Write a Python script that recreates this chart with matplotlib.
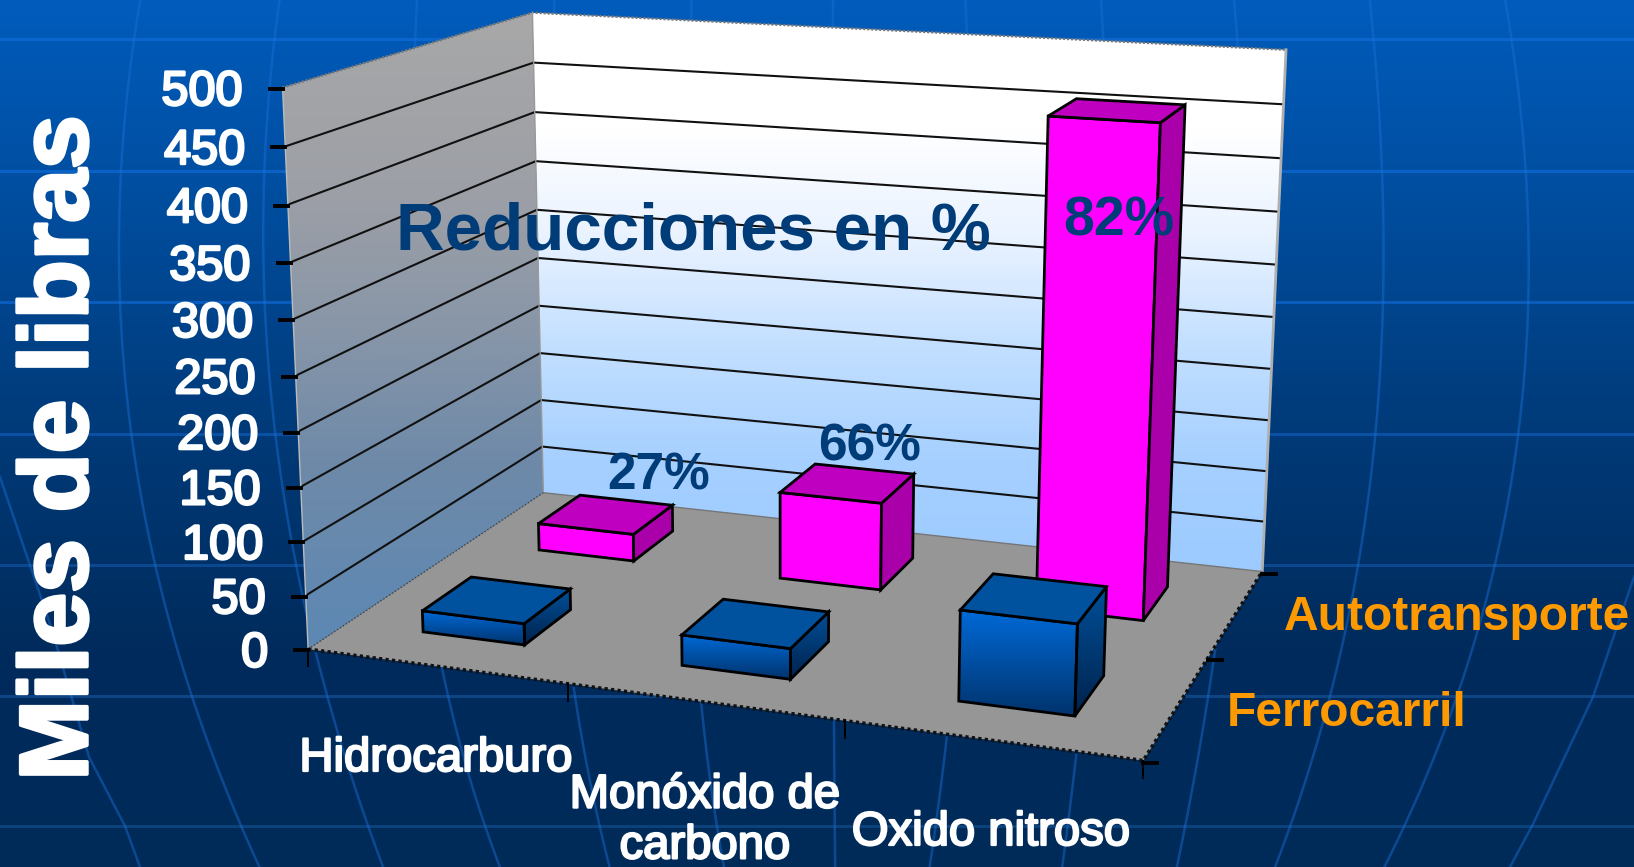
import numpy as np
import matplotlib
matplotlib.use('Agg')
from matplotlib import pyplot as plt
from matplotlib import patheffects as pe
from matplotlib.colors import LinearSegmentedColormap
from matplotlib.patches import Polygon

plt.rcParams['font.family'] = ['Liberation Sans', 'DejaVu Sans']

categories = ['Hidrocarburo', 'Monóxido de\ncarbono', 'Oxido nitroso']
series = ['Ferrocarril', 'Autotransporte']
ferrocarril = [20, 28, 81]
autotransporte = [27, 85, 457]
reducciones = ['27%', '66%', '82%']
z_ticks = [0, 50, 100, 150, 200, 250, 300, 350, 400, 450, 500]

# where the corners of the chart box land in the picture, used to fit the camera
corner_xyz = [(0, 0, 0), (3, 0, 0), (0, 2, 0), (3, 2, 0), (0, 0, 500), (0, 2, 500), (3, 2, 500)]
corner_px = [(308.5, 649), (1143, 761), (543, 493), (1262.5, 571), (282.4, 87.3), (532.6, 12.7), (1286, 50)]

W, H = 1634, 867


def fit_camera():
    rows = []
    for (x, y, z), (u, v) in zip(corner_xyz, corner_px):
        z = z / 100
        u = u / 1000
        v = v / 1000
        rows.append([x, y, z, 1, 0, 0, 0, 0, -u * x, -u * y, -u * z, -u])
        rows.append([0, 0, 0, 0, x, y, z, 1, -v * x, -v * y, -v * z, -v])
    return np.linalg.svd(np.array(rows))[2][-1].reshape(3, 4)


P = fit_camera()


def project(x, y, z):
    h = P @ np.array([x, y, z / 100, 1.0])
    return h[0] / h[2] * 1000, h[1] / h[2] * 1000


fig = plt.figure(figsize=(W / 100, H / 100), dpi=100)
ax = fig.add_axes([0, 0, 1, 1])
ax.set_xlim(0, W)
ax.set_ylim(H, 0)
ax.axis('off')


def gradient(pts, stops, z):
    # vertical gradient clipped to a polygon, stops are (picture y, colour)
    pts = np.array(pts)
    x0, x1 = pts[:, 0].min(), pts[:, 0].max()
    y0, y1 = pts[:, 1].min(), pts[:, 1].max()
    span = max(stops[-1][0] - stops[0][0], 1)
    cmap = LinearSegmentedColormap.from_list('g', [((s - stops[0][0]) / span, c) for s, c in stops])
    ys = np.linspace(y0, y1, 256)
    vals = np.clip((ys - stops[0][0]) / span, 0, 1).reshape(-1, 1)
    im = ax.imshow(vals, cmap=cmap, vmin=0, vmax=1, extent=(x0, x1, y1, y0), aspect='auto', zorder=z)
    im.set_clip_path(Polygon(pts, closed=True, transform=ax.transData))


# background
bg = np.linspace(0, 1, 256).reshape(-1, 1)
bg_map = LinearSegmentedColormap.from_list('bg', ['#005cbc', '#004c9c', '#003a78', '#002b5c', '#002a58'])
ax.imshow(bg, cmap=bg_map, extent=(0, W, H, 0), aspect='auto', zorder=0)
for y, c in [(39, '#0a66cc'), (171, '#0a62c6'), (302, '#0a5cbc'), (434, '#0a50a4'),
             (565, '#0c4890'), (696, '#0c4484'), (826, '#0c427c')]:
    ax.plot([0, W], [y, y], color=c, lw=2.2, zorder=0.5)
ys_top = [0, 167, 300, 434, 566, 697, 826, 867]
meridians = [
    [140, 122, 120, 130, 156, 193, 240, 260],
    [279, 266, 265, 271, 300, 328, 365, 385],
    [417, 410, 408, 412, 425, 448, 485, 500],
    [555, 548, 548, 552, 560, 573, 600, 610],
    [692, 688, 688, 690, 692, 698, 718, 724],
    [833, 833, 833, 833, 833, 834, 835, 835],
    [965, 972, 972, 968, 962, 952, 936, 929],
    [1101, 1108, 1106, 1103, 1095, 1082, 1068, 1062],
    [1234, 1244, 1244, 1238, 1226, 1208, 1185, 1177],
    [1369, 1385, 1380, 1375, 1359, 1330, 1290, 1275],
    [1505, 1526, 1528, 1518, 1494, 1458, 1403, 1385],
]
for m in meridians:
    coef = np.polyfit(ys_top, m, 3)
    yy = np.linspace(0, H, 80)
    ax.plot(np.polyval(coef, yy), yy, color='#1a70d8', lw=1.8, alpha=0.45, zorder=0.5)
for xs, ys in [([0, 52, 89, 125, 140], [477, 630, 757, 826, 867]),
               ([1634, 1593, 1533, 1510], [577, 697, 824, 867])]:
    ax.plot(xs, ys, color='#1a70d8', lw=1.8, alpha=0.45, zorder=0.5)

# walls and floor
back_wall = [project(0, 2, 500), project(3, 2, 500), project(3, 2, 0), project(0, 2, 0)]
left_wall = [project(0, 0, 500), project(0, 2, 500), project(0, 2, 0), project(0, 0, 0)]
floor = [project(0, 0, 0), project(3, 0, 0), project(3, 2, 0), project(0, 2, 0)]
gradient(back_wall, [(12, '#ffffff'), (130, '#ffffff'), (240, '#e8f2ff'), (340, '#c4e0ff'),
                     (460, '#a6d0ff'), (575, '#9ccaff')], 1)
gradient(left_wall, [(12, '#a8a8a8'), (200, '#9c9fa6'), (330, '#8896a8'), (460, '#6f8aa8'),
                     (650, '#5c88b4')], 1)
ax.add_patch(Polygon(floor, closed=True, fc='#969696', ec='none', zorder=1))

# grid on the walls
for z in z_ticks[1:-1]:
    pts = np.array([project(0, 0, z), project(0, 2, z), project(3, 2, z)])
    ax.plot(pts[:, 0], pts[:, 1], color='#111111', lw=1.5, zorder=2)
pts = np.array([project(0, 0, 500), project(0, 2, 500), project(3, 2, 500)])
ax.plot(pts[:, 0], pts[:, 1], color='#777777', lw=1.6, ls=(0, (1, 0.8)), zorder=2)
pts = np.array([project(3, 2, 500), project(3, 2, 0)])
ax.plot(pts[:, 0], pts[:, 1], color='#b0b0b0', lw=2, zorder=2)
pts = np.array([project(0, 2, 500), project(0, 2, 0)])
ax.plot(pts[:, 0], pts[:, 1], color='#999999', lw=1, zorder=2)
pts = np.array([project(0, 0, 500), project(0, 0, 0)])
ax.plot(pts[:, 0], pts[:, 1], color='#bbbbbb', lw=1, zorder=2)
pts = np.array([project(0, 0, 0), project(0, 2, 0)])
ax.plot(pts[:, 0], pts[:, 1], color='#444444', lw=1, ls=(0, (1, 1.5)), zorder=2)
pts = np.array([project(0, 2, 0), project(3, 2, 0)])
ax.plot(pts[:, 0], pts[:, 1], color='#777777', lw=1, zorder=2)
pts = np.array([project(0, 0, 0), project(3, 0, 0), project(3, 2, 0)])
ax.plot(pts[:, 0], pts[:, 1], color='#111111', lw=2.6, ls=(0, (0.9, 0.9)), zorder=2)

# ticks
for z in z_ticks:
    u, v = project(0, 0, z)
    ax.plot([u - 13, u], [v + 1, v + 1], color='black', lw=2.8, zorder=3)
    ax.text(u - 40, v, str(z), color='white', fontsize=35, ha='right', va='center_baseline',
            zorder=9, path_effects=[pe.withStroke(linewidth=1.8, foreground='white')])
for x in range(4):
    u, v = project(x, 0, 0)
    ax.plot([u, u], [v, v + 17], color='black', lw=1.4, zorder=3)
for y in range(3):
    u, v = project(3, y, 0)
    ax.plot([u, u + 14], [v + 2, v + 2], color='black', lw=2.8, zorder=3)

# bars, back row first so the front row covers it
bar_low, bar_high = 0.3, 0.7


def bar3d(i, j, value, z, front, side, top):
    x0, x1 = i + bar_low, i + bar_high
    y0, y1 = j + bar_low, j + bar_high
    fr = [project(x0, y0, value), project(x1, y0, value), project(x1, y0, 0), project(x0, y0, 0)]
    sd = [project(x1, y0, value), project(x1, y1, value), project(x1, y1, 0), project(x1, y0, 0)]
    tp = [project(x0, y1, value), project(x1, y1, value), project(x1, y0, value), project(x0, y0, value)]
    if isinstance(front, list):
        y_t = min(p[1] for p in fr)
        y_b = max(p[1] for p in fr)
        gradient(fr, [(y_t, front[0]), (y_b, front[1])], z)
        y_t = min(p[1] for p in sd)
        y_b = max(p[1] for p in sd)
        gradient(sd, [(y_t, side[0]), (y_b, side[1])], z)
        ax.add_patch(Polygon(fr, closed=True, fc='none', ec='black', lw=2, zorder=z + 0.1))
        ax.add_patch(Polygon(sd, closed=True, fc='none', ec='black', lw=2, zorder=z + 0.1))
    else:
        ax.add_patch(Polygon(fr, closed=True, fc=front, ec='black', lw=2, zorder=z))
        ax.add_patch(Polygon(sd, closed=True, fc=side, ec='black', lw=2, zorder=z))
    ax.add_patch(Polygon(tp, closed=True, fc=top, ec='black', lw=2, zorder=z + 0.1))


for i, value in enumerate(autotransporte):
    bar3d(i, 1, value, 4 + i * 0.2, '#ff00ff', '#aa00aa', '#c000c0')
for i, value in enumerate(ferrocarril):
    bar3d(i, 0, value, 5 + i * 0.2, ['#006ad8', '#00336c'], ['#005099', '#00224c'], '#00529f')

# texts
navy = '#003c78'
ax.text(62, 448, 'Miles de libras', color='white', fontsize=69.5, fontweight='bold', rotation=90,
        ha='center', va='center', zorder=9,
        path_effects=[pe.withStroke(linewidth=2.5, foreground='white')])
ax.text(693, 232, 'Reducciones en %', color=navy, fontsize=48.5, fontweight='bold', ha='center',
        va='center', zorder=9)
ax.text(659, 476, reducciones[0], color=navy, fontsize=37, fontweight='bold', ha='center', va='center', zorder=9)
ax.text(870, 447, reducciones[1], color=navy, fontsize=37, fontweight='bold', ha='center', va='center', zorder=9)
ax.text(1119, 221, reducciones[2], color=navy, fontsize=40, fontweight='bold', ha='center', va='center', zorder=9)

white_edge = [pe.withStroke(linewidth=1.6, foreground='white')]
ax.text(436, 759, categories[0], color='white', fontsize=34, ha='center', va='center', zorder=9,
        path_effects=white_edge)
ax.text(705, 821, categories[1], color='white', fontsize=34, ha='center', va='center', zorder=9,
        linespacing=1.2, path_effects=white_edge)
ax.text(991, 833, categories[2], color='white', fontsize=34, ha='center', va='center', zorder=9,
        path_effects=white_edge)

orange = '#ff9900'
ax.text(1457, 618, series[1], color=orange, fontsize=34.5, fontweight='bold', ha='center', va='center', zorder=9)
ax.text(1347, 713, series[0], color=orange, fontsize=34.5, fontweight='bold', ha='center', va='center', zorder=9)

ax.set_xlim(0, W)
ax.set_ylim(H, 0)
fig.savefig('out.png', dpi=100)
